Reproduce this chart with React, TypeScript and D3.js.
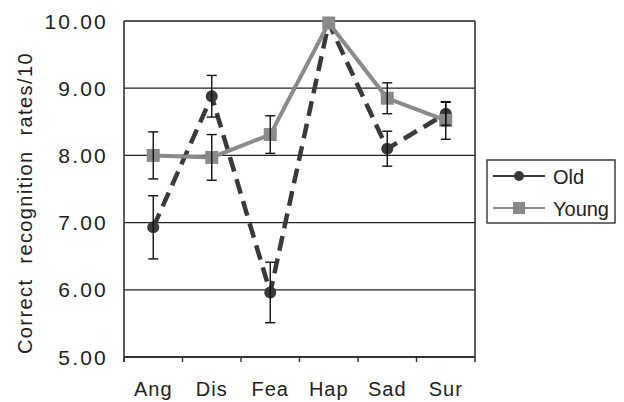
import React from "react";
import * as d3 from "d3";

const categories = ["Ang", "Dis", "Fea", "Hap", "Sad", "Sur"];
const oldMeans = [6.93, 8.88, 5.96, 9.97, 8.1, 8.62];
const oldErr = [0.47, 0.31, 0.45, 0.0, 0.26, 0.17];
const youngMeans = [8.0, 7.97, 8.31, 9.97, 8.85, 8.52];
const youngErr = [0.35, 0.34, 0.28, 0.0, 0.23, 0.28];
const yTicks = [5, 6, 7, 8, 9, 10];

const width = 624;
const height = 402;
const left = 124;
const right = 475;
const top = 21;
const bottom = 357;

const oldColor = "#3a3a3a";
const youngColor = "#8a8a8a";
const font = "Arial, 'Liberation Sans', sans-serif";

const x = d3.scaleBand().domain(categories).range([left, right]);
const y = d3.scaleLinear().domain([5, 10]).range([bottom, top]);
const cx = (c: string) => (x(c) as number) + x.bandwidth() / 2;

const lineGen = d3
  .line<number>()
  .x((_, i) => cx(categories[i]))
  .y((d) => y(d));

const ErrorBars = ({ means, errs }: { means: number[]; errs: number[] }) => (
  <g stroke="#111" strokeWidth={1.4}>
    {means.map((m, i) =>
      errs[i] > 0 ? (
        <g key={i}>
          <line x1={cx(categories[i])} x2={cx(categories[i])} y1={y(m + errs[i])} y2={y(m - errs[i])} />
          <line x1={cx(categories[i]) - 5} x2={cx(categories[i]) + 5} y1={y(m + errs[i])} y2={y(m + errs[i])} />
          <line x1={cx(categories[i]) - 5} x2={cx(categories[i]) + 5} y1={y(m - errs[i])} y2={y(m - errs[i])} />
        </g>
      ) : null
    )}
  </g>
);

const App = () => (
  <svg
    width={width}
    height={height}
    style={{ position: "absolute", left: 0, top: 0, background: "#fff" }}
    fontFamily={font}
  >
    {/* grid */}
    {yTicks.map((t) => (
      <line key={t} x1={left} x2={right} y1={y(t)} y2={y(t)} stroke="#222" strokeWidth={1.3} />
    ))}
    <line x1={left} x2={left} y1={top} y2={bottom + 5} stroke="#333" strokeWidth={1.6} />
    <line x1={right} x2={right} y1={top} y2={bottom + 5} stroke="#333" strokeWidth={1.6} />
    <line x1={left} x2={right} y1={bottom} y2={bottom} stroke="#333" strokeWidth={1.8} />
    {categories.map((c) => (
      <line key={c} x1={x(c) as number} x2={x(c) as number} y1={bottom} y2={bottom + 5} stroke="#333" strokeWidth={1.4} />
    ))}

    {/* y labels */}
    {yTicks.map((t) => (
      <text key={t} x={108} y={y(t) + 7.5} textAnchor="end" fontSize={21} letterSpacing={2.2} fill="#222">
        {t.toFixed(2)}
      </text>
    ))}
    <text
      transform={`translate(32, 203) rotate(-90)`}
      textAnchor="middle"
      fontSize={20}
      letterSpacing={1.4}
      wordSpacing={8}
      fill="#222"
    >
      Correct recognition rates/10
    </text>

    {/* x labels */}
    {categories.map((c) => (
      <text key={c} x={cx(c)} y={396} textAnchor="middle" fontSize={20} letterSpacing={1} fill="#222">
        {c}
      </text>
    ))}

    {/* series */}
    <path d={lineGen(oldMeans) as string} fill="none" stroke={oldColor} strokeWidth={4.5} strokeDasharray="15 8" />
    {oldMeans.map((m, i) => (
      <circle key={i} cx={cx(categories[i])} cy={y(m)} r={6} fill={oldColor} />
    ))}
    <path d={lineGen(youngMeans) as string} fill="none" stroke={youngColor} strokeWidth={4} />
    {youngMeans.map((m, i) => (
      <rect key={i} x={cx(categories[i]) - 6.5} y={y(m) - 6.5} width={13} height={13} fill={youngColor} />
    ))}
    <ErrorBars means={oldMeans} errs={oldErr} />
    <ErrorBars means={youngMeans} errs={youngErr} />

    {/* legend */}
    <rect x={487} y={160} width={128} height={63} fill="#fff" stroke="#333" strokeWidth={1.4} />
    <line x1={493} x2={545} y1={176} y2={176} stroke={oldColor} strokeWidth={2} />
    <circle cx={519} cy={176} r={5} fill={oldColor} />
    <text x={553} y={184} fontSize={20} fill="#222">Old</text>
    <line x1={493} x2={545} y1={208} y2={208} stroke={youngColor} strokeWidth={2} />
    <rect x={513} y={202} width={12} height={12} fill={youngColor} />
    <text x={553} y={216} fontSize={20} fill="#222">Young</text>
  </svg>
);

export default App;
